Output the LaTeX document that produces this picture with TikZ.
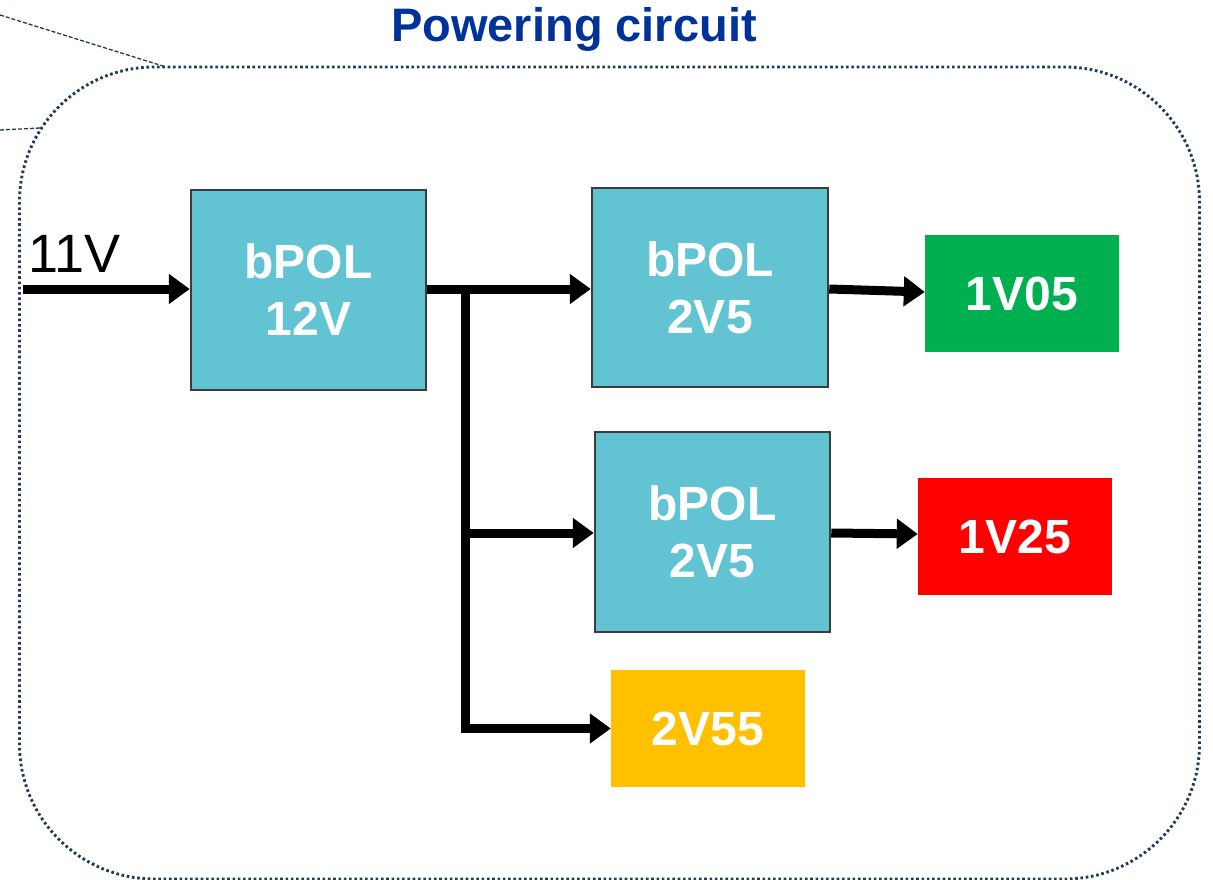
\documentclass[tikz,border=0pt]{standalone}
\usepackage{fontspec}
\setmainfont{Liberation Sans}
\usetikzlibrary{arrows.meta}
\definecolor{tealbox}{HTML}{62C4D3}
\definecolor{boxedge}{HTML}{3C3C3C}
\definecolor{greenbox}{HTML}{00B050}
\definecolor{redbox}{HTML}{FF0000}
\definecolor{amberbox}{HTML}{FFC000}
\definecolor{titleblue}{HTML}{003399}
\definecolor{frameblue}{HTML}{1F3A5F}
\tikzset{
  bpolbox/.style={draw=boxedge, line width=2.5pt, fill=tealbox, inner sep=0pt,
    text=white, align=center, font=\fontsize{48}{57}\selectfont\bfseries},
  railbox/.style={inner sep=0pt, text=white, minimum width=194pt, minimum height=117pt,
    font=\fontsize{48}{57}\selectfont\bfseries},
  wire/.style={line width=9pt, draw=black},
  arrowwire/.style={wire, -{Triangle[length=21pt 0 0,width=29pt 0 0]}},
  framedots/.style={draw=frameblue, line width=2.9pt, dash pattern=on 2.6pt off 2.7pt},
  leader/.style={draw=frameblue, line width=1.3pt, dash pattern=on 4pt off 2pt}
}
\begin{document}
\begin{tikzpicture}[x=1pt,y=-1pt]
\useasboundingbox (0,0) rectangle (1213,880);

% title
\node[text=titleblue, font=\fontsize{47}{54}\selectfont\bfseries] (title) at (574,29) {Powering circuit};

% frame and leaders
\draw[framedots, rounded corners=135pt] (19.5,67) rectangle (1199.5,879);
\coordinate (l1a) at (0,15);
\coordinate (l1b) at (166,67);
\coordinate (l2a) at (0,130);
\coordinate (l2b) at (40,128);
\draw[leader] (l1a) -- (l1b);
\draw[leader] (l2a) -- (l2b);

% boxes
\node[bpolbox, minimum width=235pt, minimum height=200pt] (b1) at (308.5,290) {bPOL\\12V};
\node[bpolbox, minimum width=236pt, minimum height=199pt] (b2) at (710,287.5) {bPOL\\2V5};
\node[bpolbox, minimum width=235pt, minimum height=200pt] (b3) at (712.5,532) {bPOL\\2V5};
\node[railbox, fill=greenbox] (r1) at (1022,293.5) {1V05};
\node[railbox, fill=redbox] (r2) at (1015,536.5) {1V25};
\node[railbox, fill=amberbox] (r3) at (708,728.5) {2V55};

% input
\node[anchor=base west, inner sep=0pt, font=\fontsize{54}{60}\selectfont] (vin) at (28,272) {11V};
\coordinate (in) at (23,289);
\draw[arrowwire] (in) -- (in -| b1.west);

% distribution
\coordinate (jt) at (465,289);
\coordinate (jm) at (465,533);
\draw[arrowwire] (b1.east |- jt) -- (jt -| b2.west);
\draw[arrowwire] (jt) |- (r3.west);
\draw[arrowwire] (jm) -- (jm -| b3.west);

% outputs
\draw[arrowwire] (b2.east |- 0,289) -- (r1.west |- 0,292);
\draw[arrowwire] (b3.east |- 0,533) -- (r2.west |- 0,534);
\end{tikzpicture}
\end{document}
